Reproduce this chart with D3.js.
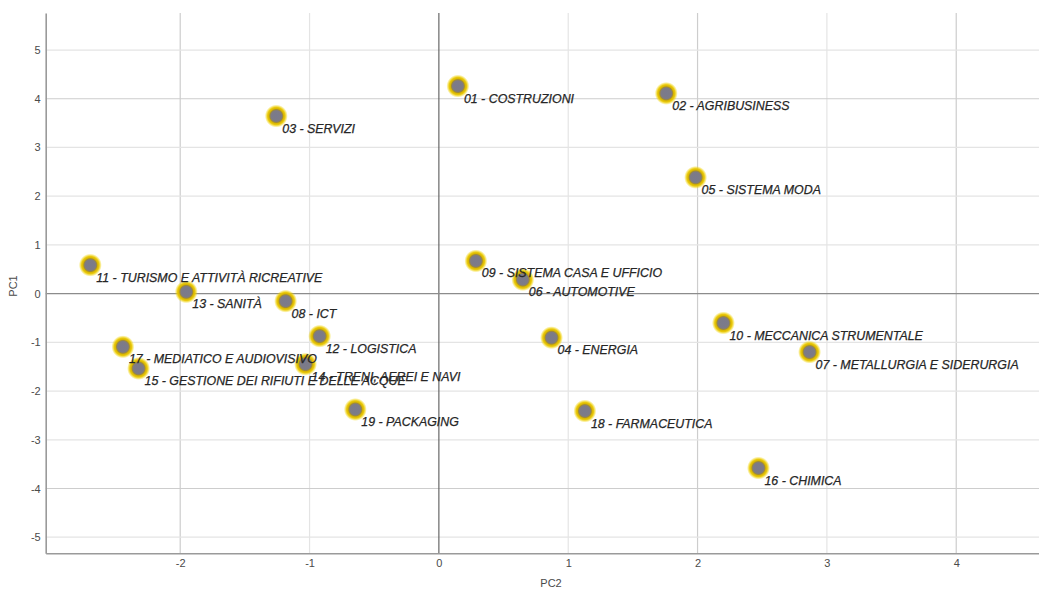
<!DOCTYPE html>
<html>
<head>
<meta charset="utf-8">
<script src="https://cdn.jsdelivr.net/npm/d3@7"></script>
<style>
  html, body { margin: 0; padding: 0; background: #fff; }
  svg { display: block; }
  .tick text { font-family: "Liberation Sans", Arial, sans-serif; font-size: 11px; fill: #4a4a4a; }
  .lbl { font-family: "Liberation Sans", Arial, sans-serif; font-size: 12.4px; font-style: italic;
         fill: #262626; stroke: #262626; stroke-width: 0.25px; }
  .ttl { font-family: "Liberation Sans", Arial, sans-serif; font-size: 11px; fill: #4a4a4a; }
</style>
</head>
<body>
<script>
// Sectors placed on the first two principal components
const sectors = [
  "01 - COSTRUZIONI", "02 - AGRIBUSINESS", "03 - SERVIZI", "04 - ENERGIA",
  "05 - SISTEMA MODA", "06 - AUTOMOTIVE", "07 - METALLURGIA E SIDERURGIA",
  "08 - ICT", "09 - SISTEMA CASA E UFFICIO", "10 - MECCANICA STRUMENTALE",
  "11 - TURISMO E ATTIVITÀ RICREATIVE", "12 - LOGISTICA", "13 - SANITÀ",
  "14 - TRENI, AEREI E NAVI", "15 - GESTIONE DEI RIFIUTI E DELLE ACQUE",
  "16 - CHIMICA", "17 - MEDIATICO E AUDIOVISIVO", "18 - FARMACEUTICA",
  "19 - PACKAGING"
];
const pc2 = [0.147, 1.758, -1.257, 0.871, 1.985, 0.649, 2.866, -1.185, 0.286, 2.20,
             -2.695, -0.922, -1.953, -1.031, -2.322, 2.471, -2.443, 1.129, -0.646];
const pc1 = [4.26, 4.11, 3.645, -0.904, 2.386, 0.288, -1.199, -0.154, 0.671, -0.603,
             0.585, -0.873, 0.037, -1.448, -1.536, -3.58, -1.092, -2.41, -2.378];

const xTicks = [-2, -1, 0, 1, 2, 3, 4];
const yTicks = [-5, -4, -3, -2, -1, 0, 1, 2, 3, 4, 5];
const xDomain = [-3.04, 4.64];
const yDomain = [-5.33, 5.76];

const W = 1039, H = 590;
const plotL = 45.7, plotR = 1039, plotT = 13, plotB = 553.3;

const svg = d3.select("body").append("svg").attr("width", W).attr("height", H);

const x = d3.scaleLinear().domain(xDomain).range([plotL, plotR]);
const y = d3.scaleLinear().domain(yDomain).range([plotB, plotT]);

// soft gold-ringed markers
const defs = svg.append("defs");
const grad = defs.append("radialGradient").attr("id", "dot");
[
  [0, "#7a7a8c", 1], [0.46, "#7d7b86", 1], [0.56, "#a08a36", 1],
  [0.64, "#d8b600", 1], [0.76, "#e9c600", 0.95], [0.89, "#f0d200", 0.45], [1, "#f5dc00", 0]
].forEach(([o, c, a]) => grad.append("stop").attr("offset", o).attr("stop-color", c).attr("stop-opacity", a));

// grid
const grid = svg.append("g");
xTicks.filter(d => d !== 0).forEach(d => {
  grid.append("line")
    .attr("x1", x(d)).attr("x2", x(d)).attr("y1", plotT).attr("y2", plotB)
    .attr("stroke", d % 2 === 0 ? "#cdcdcd" : "#e4e4e4").attr("stroke-width", 1.2);
});
yTicks.filter(d => d !== 0).forEach(d => {
  grid.append("line")
    .attr("x1", plotL).attr("x2", plotR).attr("y1", y(d)).attr("y2", y(d))
    .attr("stroke", Math.abs(d) === 4 ? "#cdcdcd" : "#e4e4e4").attr("stroke-width", 1.2);
});
// zero lines
grid.append("line").attr("x1", x(0)).attr("x2", x(0)).attr("y1", plotT).attr("y2", plotB)
  .attr("stroke", "#5a5a5a").attr("stroke-width", 1.1);
grid.append("line").attr("x1", plotL).attr("x2", plotR).attr("y1", y(0)).attr("y2", y(0))
  .attr("stroke", "#8c8c8c").attr("stroke-width", 1.1);

// axes
const xAxis = svg.append("g").attr("transform", `translate(0,${plotB})`)
  .call(d3.axisBottom(x).tickValues(xTicks).tickSize(0).tickPadding(6).tickFormat(d3.format("d")));
const yAxis = svg.append("g").attr("transform", `translate(${plotL},0)`)
  .call(d3.axisLeft(y).tickValues(yTicks).tickSize(0).tickPadding(5).tickFormat(d3.format("d")));
[xAxis, yAxis].forEach(a => a.select(".domain").attr("stroke", "#9a9a9a").attr("stroke-width", 1.6));
xAxis.selectAll(".tick text").text(d => d < 0 ? "-" + Math.abs(d) : d);
yAxis.selectAll(".tick text").text(d => d < 0 ? "-" + Math.abs(d) : d);

svg.append("text").attr("class", "ttl").attr("x", 551).attr("y", 583)
  .attr("text-anchor", "middle").attr("dominant-baseline", "central").text("PC2");
svg.append("text").attr("class", "ttl")
  .attr("transform", "translate(13,286) rotate(-90)")
  .attr("text-anchor", "middle").attr("dominant-baseline", "central").text("PC1");

// markers, then labels on top
const pts = sectors.map((s, i) => ({ name: s, px: pc2[i], py: pc1[i] }));
svg.append("g").selectAll("circle").data(pts).join("circle")
  .attr("cx", d => x(d.px)).attr("cy", d => y(d.py)).attr("r", 11.5)
  .attr("fill", "url(#dot)");

svg.append("g").selectAll("text").data(pts).join("text")
  .attr("class", "lbl")
  .attr("x", d => x(d.px) + 6).attr("y", d => y(d.py) + 12.5)
  .attr("dominant-baseline", "central")
  .text(d => d.name);
</script>
</body>
</html>
